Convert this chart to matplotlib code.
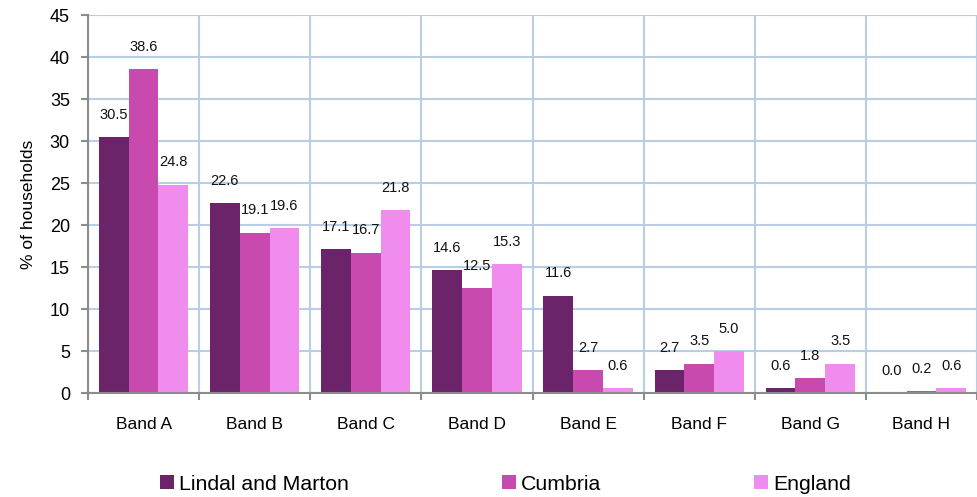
import numpy as np
import matplotlib
matplotlib.use("Agg")
import matplotlib.pyplot as plt

plt.rcParams['font.family'] = ['Liberation Sans', 'DejaVu Sans']

bands = ["Band A", "Band B", "Band C", "Band D", "Band E", "Band F", "Band G", "Band H"]
lindal = [30.5, 22.6, 17.1, 14.6, 11.6, 2.7, 0.6, 0.0]
cumbria = [38.6, 19.1, 16.7, 12.5, 2.7, 3.5, 1.8, 0.2]
england = [24.8, 19.6, 21.8, 15.3, 0.6, 5.0, 3.5, 0.6]

series = [("Lindal and Marton", lindal, "#6B2369"),
          ("Cumbria", cumbria, "#C84AAE"),
          ("England", england, "#F08CEE")]

fig = plt.figure(figsize=(9.77, 4.97), dpi=100)
ax = fig.add_axes([88/977, 1 - 393/497, 1 - 88/977, (393 - 15)/497])

x = np.arange(len(bands))
w = 0.268
for i, (name, vals, col) in enumerate(series):
    pos = x + (i - 1) * w
    ax.bar(pos, vals, width=w, color=col, label=name, zorder=3)
    for p, v in zip(pos, vals):
        ax.annotate("%.1f" % v, (p, v), xytext=(0, 16), textcoords="offset points",
                    ha="center", va="center", fontsize=10.5, color="#111111", zorder=4)

ax.set_ylim(0, 45)
ax.set_yticks(np.arange(0, 46, 5))
ax.set_xlim(-0.5, 7.45)

# gridlines at category boundaries, labels in the middle
ax.set_xticks(np.arange(-0.5, 8, 1))
ax.set_xticklabels([])
ax.set_xticks(x, minor=True)
ax.set_xticklabels(bands, minor=True, fontsize=12.5)
ax.tick_params(axis="x", which="minor", length=0, pad=17)
ax.tick_params(axis="x", which="major", length=5, width=1.5, color="#8C8C8C", direction="out")
ax.tick_params(axis="y", length=5, width=1.5, color="#8C8C8C", labelsize=13, pad=8)

ax.grid(True, which="major", color="#B9CDE5", linewidth=1.5, zorder=0)
ax.set_axisbelow(True)
for s in ["top", "right"]:
    ax.spines[s].set_visible(False)
for s in ["left", "bottom"]:
    ax.spines[s].set_color("#8C8C8C")
    ax.spines[s].set_linewidth(1.5)
    ax.spines[s].set_zorder(5)

ax.set_ylabel("% of households", fontsize=12.5, labelpad=10)

fig.legend(loc="center left", bbox_to_anchor=(160/977, 1 - 484/497), ncol=3,
           frameon=False, fontsize=15.3, handlelength=0.65, handleheight=0.65,
           handletextpad=0.25, columnspacing=7.2, borderpad=0, borderaxespad=0)

fig.savefig("out.png", dpi=100)
